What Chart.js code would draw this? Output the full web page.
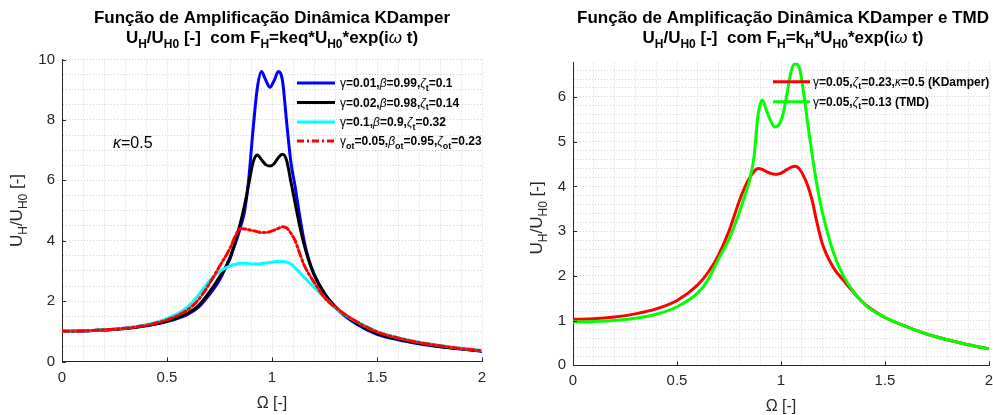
<!DOCTYPE html>
<html><head><meta charset="utf-8">
<script src="https://cdn.jsdelivr.net/npm/chart.js@4.4.1/dist/chart.umd.min.js"></script>
<style>
html,body{margin:0;padding:0;background:#fff;width:993px;height:415px;overflow:hidden;}
#c1{position:absolute;left:0;top:0;}
#c2{position:absolute;left:497px;top:0;}
</style></head><body>
<canvas id="c1" width="497" height="415"></canvas>
<canvas id="c2" width="496" height="415"></canvas>
<script>
// ---------- data ----------
const omega = [0, 0.1, 0.2, 0.3, 0.4, 0.5, 0.6, 0.65, 0.7, 0.75, 0.8, 0.83, 0.85, 0.87, 0.89, 0.91, 0.93, 0.95, 0.97, 0.99, 1.01, 1.03, 1.05, 1.07, 1.09, 1.11, 1.13, 1.15, 1.17, 1.2, 1.25, 1.3, 1.4, 1.5, 1.6, 1.7, 1.8, 1.9, 2.0];

// left chart
const kdBlue  = [1.00, 1.01, 1.04, 1.09, 1.18, 1.32, 1.57, 1.80, 2.20, 2.70, 3.45, 4.00, 4.45, 5.00, 6.10, 7.70, 9.05, 9.60, 9.32, 9.08, 9.30, 9.60, 9.30, 7.90, 6.60, 5.80, 4.90, 4.10, 3.50, 2.90, 2.25, 1.80, 1.25, 0.90, 0.72, 0.59, 0.49, 0.41, 0.34];
const kdBlack = [1.00, 1.01, 1.04, 1.09, 1.19, 1.34, 1.60, 1.85, 2.28, 2.80, 3.40, 4.10, 4.60, 5.20, 5.90, 6.60, 6.84, 6.68, 6.52, 6.47, 6.55, 6.75, 6.86, 6.65, 5.95, 5.25, 4.55, 3.95, 3.45, 2.88, 2.25, 1.83, 1.28, 0.93, 0.74, 0.60, 0.50, 0.42, 0.35];
const kdCyan  = [1.00, 1.01, 1.05, 1.11, 1.22, 1.42, 1.82, 2.20, 2.66, 2.98, 3.17, 3.23, 3.25, 3.25, 3.24, 3.23, 3.23, 3.24, 3.26, 3.28, 3.30, 3.31, 3.31, 3.29, 3.23, 3.10, 2.96, 2.81, 2.67, 2.46, 2.12, 1.78, 1.33, 1.00, 0.79, 0.64, 0.53, 0.44, 0.37];
const kdOpt   = [1.00, 1.01, 1.05, 1.10, 1.20, 1.38, 1.72, 2.05, 2.55, 3.15, 3.75, 4.22, 4.40, 4.39, 4.36, 4.33, 4.30, 4.27, 4.27, 4.30, 4.35, 4.41, 4.46, 4.42, 4.25, 4.00, 3.62, 3.24, 2.96, 2.63, 2.12, 1.80, 1.33, 0.98, 0.78, 0.63, 0.52, 0.43, 0.36];

// right chart
const kdamperR = [1.03, 1.04, 1.08, 1.15, 1.26, 1.45, 1.80, 2.08, 2.47, 3.00, 3.68, 4.02, 4.20, 4.33, 4.40, 4.38, 4.33, 4.29, 4.27, 4.28, 4.32, 4.38, 4.43, 4.45, 4.38, 4.22, 4.00, 3.68, 3.25, 2.70, 2.20, 1.90, 1.38, 1.07, 0.87, 0.70, 0.57, 0.46, 0.37];
const tmdR     = [0.97, 0.98, 1.00, 1.05, 1.14, 1.31, 1.62, 1.92, 2.38, 2.82, 3.42, 3.85, 4.15, 4.65, 5.60, 5.93, 5.70, 5.47, 5.33, 5.38, 5.62, 6.10, 6.60, 6.74, 6.62, 6.05, 5.35, 4.70, 4.10, 3.40, 2.55, 2.00, 1.37, 1.07, 0.87, 0.70, 0.57, 0.46, 0.37];

// tick labels
const xTickLabels = ['0', '0.5', '1', '1.5', '2'];
const yTickLabelsL = ['0', '2', '4', '6', '8', '10'];
const yTickLabelsR = ['0', '1', '2', '3', '4', '5', '6'];

// ---------- rich text helpers ----------
const FONT = '"Liberation Sans", Arial, Helvetica, sans-serif';
const T = t => ({t});
const S = t => ({t, sub: true});
const G = (t, it) => ({t, g: true, i: !!it});

// text content
const titleL = [
  [T('Função de Amplificação Dinâmica KDamper')],
  [T('U'), S('H'), T('/U'), S('H0'), T(' [-]  com F'), S('H'), T('=keq*U'), S('H0'), T('*exp(i'), G('ω', true), T(' t)')]
];
const titleR = [
  [T('Função de Amplificação Dinâmica KDamper e TMD')],
  [T('U'), S('H'), T('/U'), S('H0'), T(' [-]  com F'), S('H'), T('=k'), S('H'), T('*U'), S('H0'), T('*exp(i'), G('ω', true), T(' t)')]
];
const yTitle = [T('U'), S('H'), T('/U'), S('H0'), T(' [-]')];
const xTitle = [T('Ω [-]')];
const legendL = [
  [G('γ'), T('=0.01,'), G('β', true), T('=0.99,'), G('ζ', true), S('t'), T('=0.1')],
  [G('γ'), T('=0.02,'), G('β', true), T('=0.98,'), G('ζ', true), S('t'), T('=0.14')],
  [G('γ'), T('=0.1,'), G('β', true), T('=0.9,'), G('ζ', true), S('t'), T('=0.32')],
  [G('γ'), S('ot'), T('=0.05,'), G('β', true), S('ot'), T('=0.95,'), G('ζ', true), S('ot'), T('=0.23')]
];
const legendR = [
  [G('γ'), T('=0.05,'), G('ζ', true), S('t'), T('=0.23,'), G('κ', true), T('=0.5 (KDamper)')],
  [G('γ'), T('=0.05,'), G('ζ', true), S('t'), T('=0.13 (TMD)')]
];
const kappaNote = [G('κ', true), T('=0.5')];

function segFont(s, size, bold) {
  const sz = s.sub ? Math.round(size * 0.72) : size;
  const w = (bold && !s.g) ? 'bold ' : '';
  const st = s.i ? 'italic ' : '';
  return st + w + sz + 'px ' + FONT;
}
function richWidth(ctx, segs, size, bold) {
  let w = 0;
  for (const s of segs) { ctx.font = segFont(s, size, bold); w += ctx.measureText(s.t).width; }
  return w;
}
function drawRich(ctx, segs, x, y, size, bold, align, color) {
  ctx.save();
  ctx.fillStyle = color || '#000';
  ctx.textBaseline = 'alphabetic';
  ctx.textAlign = 'left';
  let cx = x;
  if (align === 'center') cx = x - richWidth(ctx, segs, size, bold) / 2;
  for (const s of segs) {
    ctx.font = segFont(s, size, bold);
    ctx.fillText(s.t, cx, y + (s.sub ? size * 0.3 : 0));
    cx += ctx.measureText(s.t).width;
  }
  ctx.restore();
}

function decor(cfg) {
  return {
    id: 'decor',
    afterDatasetsDraw(chart) {
      const ctx = chart.ctx;
      const ds = chart.data.datasets;
      cfg.legend.forEach((segs, i) => {
        const d = ds[i];
        const y = cfg.legY[i];
        ctx.save();
        ctx.strokeStyle = d.borderColor;
        ctx.lineWidth = d.borderWidth;
        ctx.setLineDash(d.borderDash || []);
        ctx.beginPath();
        ctx.moveTo(cfg.legX1, y); ctx.lineTo(cfg.legX2, y);
        ctx.stroke();
        ctx.restore();
        drawRich(ctx, segs, cfg.legTX, y + 4, 12, true, 'left', '#000');
      });
      if (cfg.note) drawRich(ctx, cfg.note.segs, cfg.note.x, cfg.note.y, 16, false, 'left', '#000');
    },
    afterDraw(chart) {
      const ctx = chart.ctx;
      const a = chart.chartArea;
      const cxm = (a.left + a.right) / 2 + (cfg.titleShift || 0);
      drawRich(ctx, cfg.title[0], cxm, 23, 17, true, 'center', '#000');
      drawRich(ctx, cfg.title[1], cxm, 43, 17, true, 'center', '#000');
      // axis titles
      drawRich(ctx, xTitle, (a.left + a.right) / 2, a.bottom + 46, 16, false, 'center', '#262626');
      ctx.save();
      ctx.translate(cfg.yTitleX, (a.top + a.bottom) / 2 + (cfg.yTitleShift || 0));
      ctx.rotate(-Math.PI / 2);
      drawRich(ctx, yTitle, 0, 0, 17, false, 'center', '#262626');
      ctx.restore();
      // inward tick marks at labelled ticks
      ctx.save();
      ctx.strokeStyle = '#262626';
      ctx.lineWidth = 1;
      ctx.beginPath();
      const xs = chart.scales.x, ys = chart.scales.y;
      xTickLabels.forEach(l => {
        const px = Math.round(xs.getPixelForValue(parseFloat(l))) + 0.5;
        ctx.moveTo(px, a.bottom); ctx.lineTo(px, a.bottom - 4);
      });
      cfg.yLabels.forEach(l => {
        const py = Math.round(ys.getPixelForValue(parseFloat(l))) + 0.5;
        ctx.moveTo(a.left, py); ctx.lineTo(a.left + 4, py);
      });
      ctx.stroke();
      ctx.restore();
    }
  };
}

function makeChart(canvasId, datasets, yMax, yStep, yMajor, yLabels, area, cfg) {
  const tickFont = {family: FONT, size: 15};
  const near = (v, m) => Math.abs(v / m - Math.round(v / m)) < 1e-6;
  return new Chart(document.getElementById(canvasId), {
    type: 'line',
    data: {datasets},
    options: {
      responsive: false,
      animation: false,
      events: [],
      layout: {padding: {left: 0, right: area.padRight, top: area.top, bottom: 0}},
      plugins: {legend: {display: false}, title: {display: false}, tooltip: {enabled: false}},
      elements: {point: {radius: 0}, line: {cubicInterpolationMode: 'monotone', borderCapStyle: 'round', borderJoinStyle: 'round'}},
      scales: {
        x: {
          type: 'linear', min: 0, max: 2,
          ticks: {stepSize: 0.1, autoSkip: false, maxRotation: 0, includeBounds: false, padding: 7, color: '#262626', font: tickFont,
            callback: v => near(v, 0.5) ? xTickLabels[Math.round(v / 0.5)] : ''},
          grid: {color: '#d2d2d2', lineWidth: 1, drawTicks: false},
          border: {display: true, color: '#262626', width: 1, dash: [1, 2]},
          afterFit: s => { s.height = area.xHeight; s.paddingLeft = 0; s.paddingRight = 0; }
        },
        y: {
          type: 'linear', min: 0, max: yMax,
          ticks: {stepSize: yStep, autoSkip: false, includeBounds: false, padding: 7, color: '#262626', font: tickFont,
            callback: v => near(v, yMajor) ? yLabels[Math.round(v / yMajor)] : ''},
          grid: {color: '#d2d2d2', lineWidth: 1, drawTicks: false},
          border: {display: true, color: '#262626', width: 1, dash: [1, 2]},
          afterFit: s => { s.width = area.left; s.paddingTop = 0; s.paddingBottom = 0; }
        }
      }
    },
    plugins: [decor(cfg)]
  });
}

const pts = ys => omega.map((x, i) => ({x, y: ys[i]}));

// left chart: plot area x 62..482, y 59.5..361.5
makeChart('c1', [
  {label: 'γ=0.01,β=0.99,ζt=0.1', data: pts(kdBlue), borderColor: '#0000ff', borderWidth: 3, order: 4},
  {label: 'γ=0.02,β=0.98,ζt=0.14', data: pts(kdBlack), borderColor: '#000000', borderWidth: 3, order: 3},
  {label: 'γ=0.1,β=0.9,ζt=0.32', data: pts(kdCyan), borderColor: '#00ffff', borderWidth: 3, order: 2},
  {label: 'γot=0.05,βot=0.95,ζot=0.23', data: pts(kdOpt), borderColor: '#ff0000', borderWidth: 3, borderDash: [7, 3, 2, 3], order: 1}
], 10, 0.5, 2, yTickLabelsL,
  {left: 62, padRight: 15, top: 59.5, xHeight: 53.5},
  {title: titleL, legend: legendL, legY: [83, 102.5, 122, 141], legX1: 297, legX2: 335, legTX: 340,
   yTitleX: 22, yTitleShift: 0, yLabels: yTickLabelsL,
   note: {segs: kappaNote, x: 113, y: 148}});

// right chart: plot area x 573..989 (canvas offset 497), y 62.5..365.3
makeChart('c2', [
  {label: 'γ=0.05,ζt=0.23,κ=0.5 (KDamper)', data: pts(kdamperR), borderColor: '#ff0000', borderWidth: 3, order: 2},
  {label: 'γ=0.05,ζt=0.13 (TMD)', data: pts(tmdR), borderColor: '#00ff00', borderWidth: 3, order: 1}
], 6.77, 0.2, 1, yTickLabelsR,
  {left: 76, padRight: 4, top: 62.5, xHeight: 49.7},
  {title: titleR, legend: legendR, legY: [81.7, 101.7], legX1: 276, legX2: 313, legTX: 316,
   yTitleX: 45, yTitleShift: 4, yLabels: yTickLabelsR, titleShift: 2});
</script>
</body></html>
